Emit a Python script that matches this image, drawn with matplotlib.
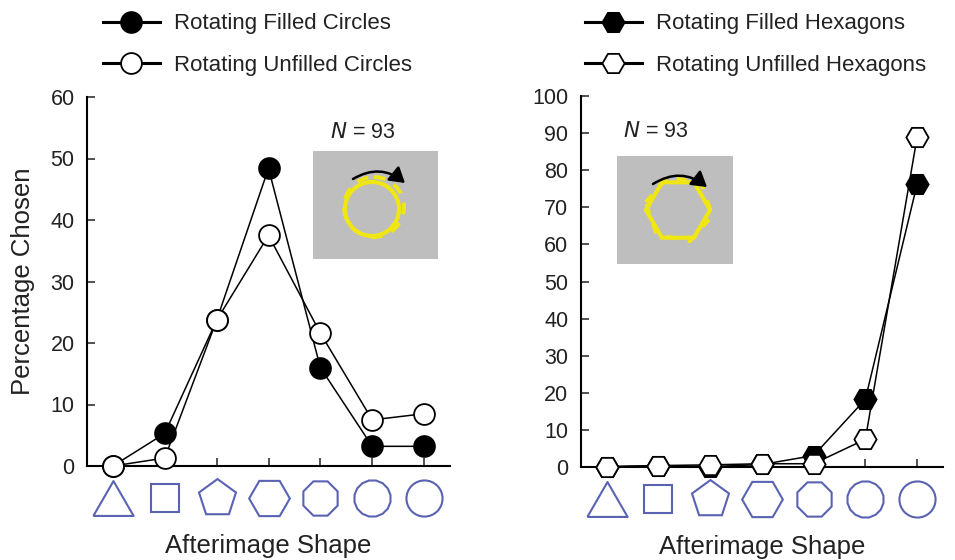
import numpy as np
import matplotlib
matplotlib.use('Agg')
import matplotlib.pyplot as plt
from matplotlib.transforms import blended_transform_factory
from matplotlib.patches import Circle, RegularPolygon, FancyArrowPatch

plt.rcParams['font.family'] = ['Liberation Sans', 'DejaVu Sans']

# ---- data ----
categories = ['triangle', 'square', 'pentagon', 'hexagon', 'octagon', 'dodecagon', 'circle']
circ_filled = [0.0, 5.3, 23.7, 48.4, 16.0, 3.2, 3.2]
circ_unfilled = [0.0, 1.3, 23.7, 37.5, 21.6, 7.5, 8.5]
hex_filled = [0.0, 0.3, 0.0, 0.6, 3.0, 18.2, 76.3]
hex_unfilled = [0.0, 0.3, 0.5, 0.8, 0.8, 7.4, 89.0]
n_subjects = 93

BLUE = '#5a62b2'
YELLOW = '#f0e614'
GREY = '#bebebe'

# shape icons under the x axis: (marker, size in pt)
tri = np.array([[-1, -0.866], [1, -0.866], [0, 0.866], [-1, -0.866]])
shape_markers = [(tri, 29), ((4, 0, 45), 29.5), ((5, 0, 0), 28), ((6, 0, 30), 29.3),
                 ((8, 0, 22.5), 26.7), ((16, 0, 11.25), 26.4), ('o', 26)]

fig = plt.figure(figsize=(9.55, 5.6), dpi=100)
W, H = 955, 560


def px_axes(x0, y0, x1, y1):
    return fig.add_axes([x0 / W, 1 - y1 / H, (x1 - x0) / W, (y1 - y0) / H])


ax_c = px_axes(87, 97, 450, 466)
ax_h = px_axes(580.7, 96.3, 943, 466.7)


def style_axes(ax, ymax):
    x = np.arange(len(categories))
    ax.set_xlim(-0.5, 6.5)
    ax.set_ylim(0, ymax)
    ax.set_xticks(x)
    ax.set_xticklabels([])
    ax.set_yticks(np.arange(0, ymax + 1, 10))
    for s in ('top', 'right'):
        ax.spines[s].set_visible(False)
    for s in ('left', 'bottom'):
        ax.spines[s].set_linewidth(1.5)
    ax.tick_params(axis='both', direction='in', length=6, width=1.1,
                   labelsize=15.5, pad=9, colors='#222222')
    ax.set_xlabel('Afterimage Shape', fontsize=18.5, color='#222222')
    ax.xaxis.set_label_coords(0.5, -0.185)
    trans = blended_transform_factory(ax.transData, ax.transAxes)
    for xi, (mk, ms) in zip(x, shape_markers):
        ax.plot([xi], [-0.087], marker=mk, ms=ms, mfc='none', mec=BLUE,
                mew=1.5, ls='none', transform=trans, clip_on=False)


x = np.arange(len(categories))

# ---- left: circles ----
style_axes(ax_c, 60)
ax_c.plot(x, circ_filled, color='black', lw=1.1, marker='o', ms=15,
          mfc='black', mec='black', mew=1.3, clip_on=False, zorder=3,
          label='Rotating Filled Circles')
ax_c.plot(x, circ_unfilled, color='black', lw=1.1, marker='o', ms=15,
          mfc='white', mec='black', mew=1.3, clip_on=False, zorder=4,
          label='Rotating Unfilled Circles')
ax_c.set_ylabel('Percentage Chosen', fontsize=18.5, color='#222222')
ax_c.yaxis.set_label_coords(-0.143, 0.5)
ax_c.text(0.76, 0.905, r'$\it{N}$ = %d' % n_subjects, transform=ax_c.transAxes,
          fontsize=15.5, ha='center', va='center', color='#222222')

# ---- right: hexagons ----
style_axes(ax_h, 100)
ax_h.plot(x, hex_filled, color='black', lw=1.1, marker='H', ms=16,
          mfc='black', mec='black', mew=1.3, clip_on=False, zorder=3,
          label='Rotating Filled Hexagons')
ax_h.plot(x, hex_unfilled, color='black', lw=1.1, marker='H', ms=16,
          mfc='white', mec='black', mew=1.3, clip_on=False, zorder=4,
          label='Rotating Unfilled Hexagons')
ax_h.text(0.207, 0.905, r'$\it{N}$ = %d' % n_subjects, transform=ax_h.transAxes,
          fontsize=15.5, ha='center', va='center', color='#222222')

# ---- legends ----
for ax, x0 in ((ax_c, 103), (ax_h, 585)):
    leg = ax.legend(loc='upper left', bbox_to_anchor=(x0 / W, 1 - 13.5 / H),
                    bbox_transform=fig.transFigure, frameon=False, fontsize=16,
                    handlelength=2.55, handletextpad=0.65, labelspacing=0.92,
                    borderpad=0, borderaxespad=0)
    for t in leg.get_texts():
        t.set_color('#222222')
    for ln in leg.get_lines():
        ln.set_linewidth(2.2)

# ---- stimulus insets ----
ins_c = px_axes(313, 151, 438, 259)
ins_h = px_axes(617, 156, 733, 264)
for ins, w, h in ((ins_c, 125, 108), (ins_h, 116, 108)):
    ins.set_facecolor(GREY)
    ins.set_xlim(0, w)
    ins.set_ylim(h, 0)
    ins.set_xticks([])
    ins.set_yticks([])
    for sp in ins.spines.values():
        sp.set_visible(False)

ins_c.add_patch(Circle((61, 56), 30, fill=False, ec=YELLOW, lw=2.8,
                       ls=(0, (3, 2.5))))
ins_c.add_patch(Circle((59, 58), 27, fill=False, ec=YELLOW, lw=3))
ins_c.add_patch(FancyArrowPatch((40, 28), (92, 32), connectionstyle='arc3,rad=-0.35',
                                arrowstyle='-|>,head_length=9,head_width=5.5',
                                color='black', lw=1.8, shrinkA=0, shrinkB=0))

ins_h.add_patch(RegularPolygon((62, 53), 6, radius=34, orientation=np.pi / 2 + 0.2,
                               fill=False, ec=YELLOW, lw=2.8, ls=(0, (2.5, 3))))
ins_h.add_patch(RegularPolygon((61, 54), 6, radius=32, orientation=np.pi / 2,
                               fill=False, ec=YELLOW, lw=3))
ins_h.add_patch(FancyArrowPatch((36, 28), (90, 31), connectionstyle='arc3,rad=-0.35',
                                arrowstyle='-|>,head_length=9,head_width=5.5',
                                color='black', lw=1.8, shrinkA=0, shrinkB=0))

fig.savefig('out.png', dpi=100)
